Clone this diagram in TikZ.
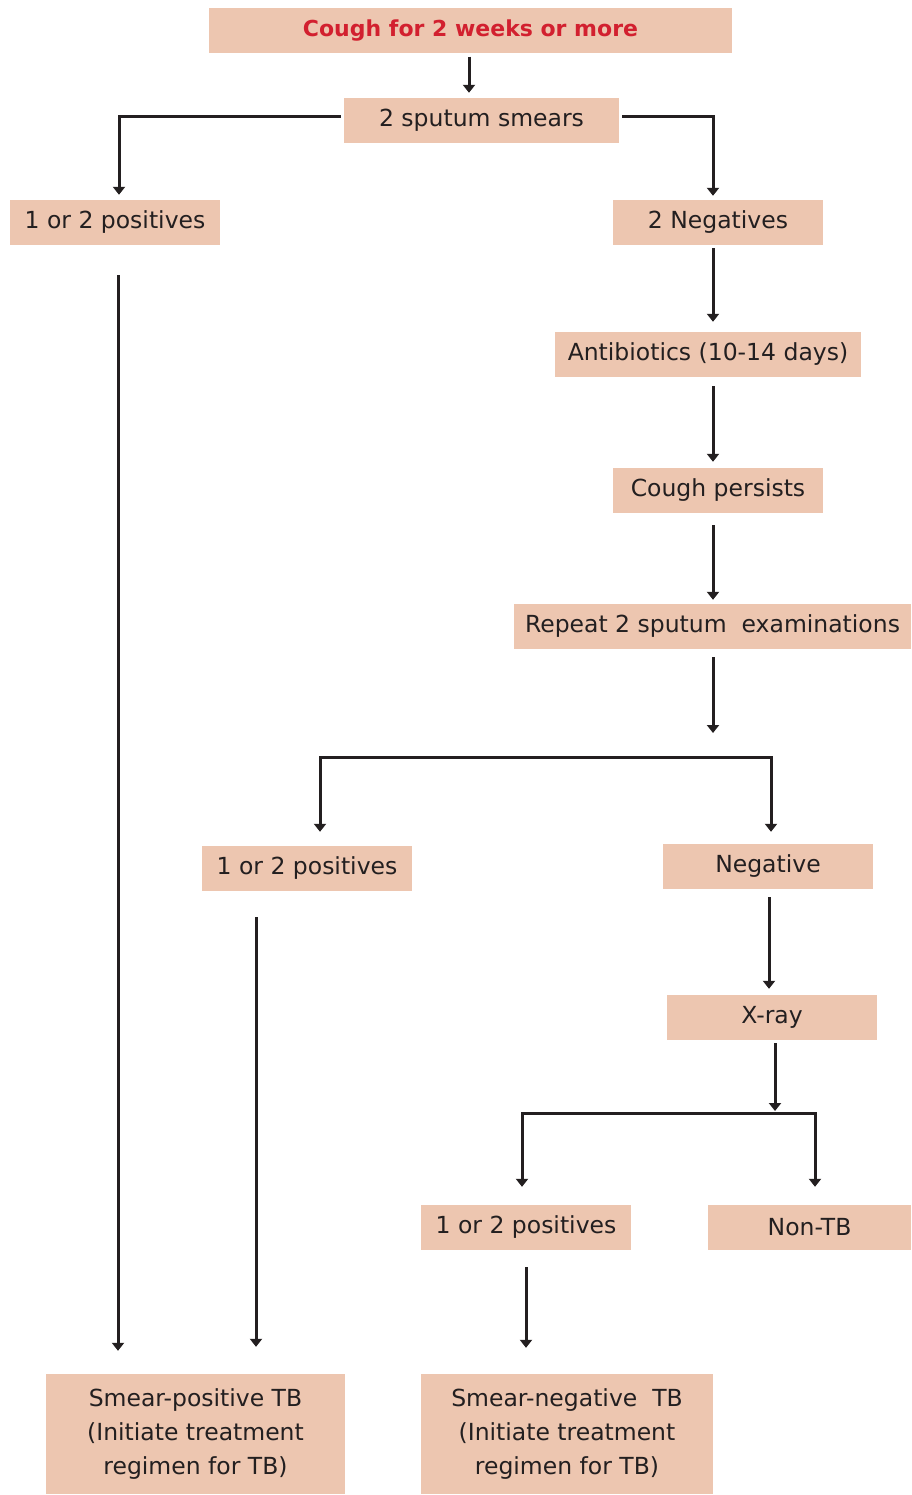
\documentclass[tikz,border=0pt]{standalone}
\usepackage{fontspec}
\setmainfont{DejaVu Sans}
\usetikzlibrary{arrows.meta}
\definecolor{boxfill}{HTML}{EDC6B0}
\definecolor{ink}{HTML}{231F20}
\definecolor{redtxt}{HTML}{D2202F}
\begin{document}
\begin{tikzpicture}[x=1pt,y=-1pt,
  box/.style={fill=boxfill, draw=none, inner sep=0pt, text=ink, align=center,
    font=\fontsize{23.5}{34}\selectfont, minimum height=45pt},
  arr/.style={draw=ink, line width=3pt, -{Triangle[length=8pt,width=12pt]}}]
\useasboundingbox (0,0) rectangle (911,1495);
% nodes
\node[box, minimum width=523pt, text=redtxt, font=\fontsize{22}{34}\selectfont\bfseries] (top) at (470.5,31) {Cough for 2 weeks or more};
\node[box, minimum width=275pt] (sputum) at (481.5,120.5) {2 sputum smears};
\node[box, minimum width=210pt] (pos1) at (115,222.5) {1 or 2 positives};
\node[box, minimum width=210pt] (neg2) at (718,222.5) {2 Negatives};
\node[box, minimum width=306pt] (anti) at (708,354.5) {Antibiotics (10-14 days)};
\node[box, minimum width=210pt] (cough) at (718,490.5) {Cough persists};
\node[box, minimum width=397pt] (repeat) at (712.5,626.5) {Repeat 2 sputum\ \ examinations};
\node[box, minimum width=210pt] (pos2) at (307,868.5) {1 or 2 positives};
\node[box, minimum width=210pt] (negative) at (768,866.5) {Negative};
\node[box, minimum width=210pt] (xray) at (772,1017.5) {X-ray};
\node[box, minimum width=210pt] (pos3) at (526,1227.5) {1 or 2 positives};
\node[box, minimum width=203pt] (nontb) at (809.5,1227.5) {Non-TB};
\node[box, minimum width=299pt, minimum height=120pt] (smearpos) at (195.5,1434) {Smear-positive TB\\(Initiate treatment\\regimen for TB)};
\node[box, minimum width=292pt, minimum height=120pt] (smearneg) at (567,1434) {Smear-negative\ \ TB\\(Initiate treatment\\regimen for TB)};
% free ends
\coordinate (rep-end) at (713,733);
\coordinate (fork1) at (545,757);
\coordinate (fork2) at (775,1113);
% connectors
\draw[arr] ([shift={(-1.5,3)}]top.south) -- ([shift={(-1.5,-5)}]top.south |- sputum.north);
\draw[arr] ([shift={(-3,-3.5)}]sputum.west) -| ([shift={(4,-5)}]pos1.north);
\draw[arr] ([shift={(3,-3.5)}]sputum.east) -| ([shift={(-5,-4)}]neg2.north);
\draw[arr] ([shift={(-5,3)}]neg2.south) -- ([shift={(5,-10)}]anti.north);
\draw[arr] ([shift={(5,9)}]anti.south) -- ([shift={(-5,-6)}]cough.north);
\draw[arr] ([shift={(-5,12)}]cough.south) -- ([shift={(0.5,-4)}]repeat.north);
\draw[arr] ([shift={(0.5,8)}]repeat.south) -- (rep-end);
\draw[arr] (fork1) -| ([shift={(13,-14)}]pos2.north);
\draw[arr] (fork1) -| ([shift={(3,-12)}]negative.north);
\draw[arr] ([shift={(3,30)}]pos1.south) -- ([shift={(3,-23)}]pos1.south |- smearpos.north);
\draw[arr] ([shift={(-51,26)}]pos2.south) -- ([shift={(-51,-27)}]pos2.south |- smearpos.north);
\draw[arr] ([shift={(1,8)}]negative.south) -- ([shift={(-3,-6)}]xray.north);
\draw[arr] ([shift={(3,3)}]xray.south) -- ([shift={(0,-2)}]fork2);
\draw[arr] (fork2) -| ([shift={(-4,-18)}]pos3.north);
\draw[arr] (fork2) -| ([shift={(5.5,-18)}]nontb.north);
\draw[arr] ([shift={(0,17)}]pos3.south) -- ([shift={(0,-26)}]pos3.south |- smearneg.north);
\end{tikzpicture}
\end{document}
